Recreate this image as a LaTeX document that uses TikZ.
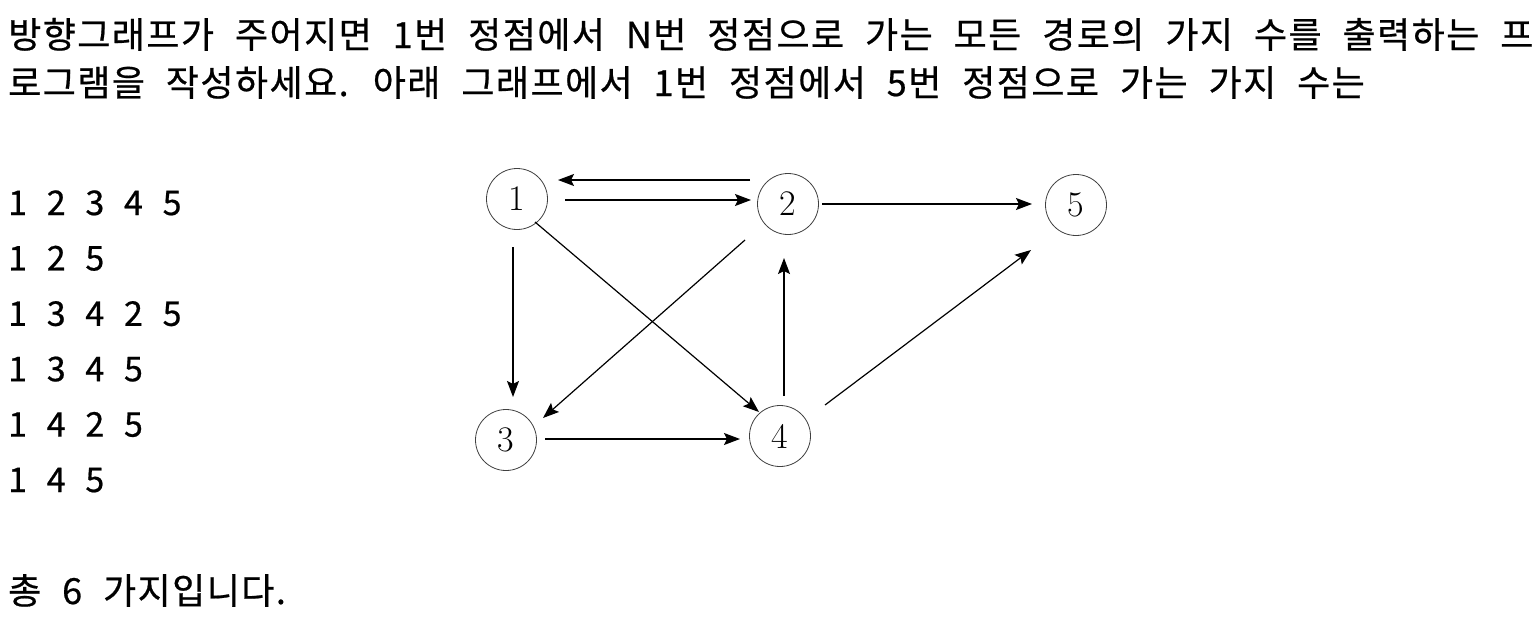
\documentclass[tikz,border=0pt]{standalone}
\usepackage{fontspec}
\newfontfamily\krfont[WordSpace=2.2,LetterSpace=4,FakeBold=0.6]{Noto Sans CJK KR}
\usetikzlibrary{arrows.meta}

\begin{document}
\begin{tikzpicture}[
  x=1pt, y=-1pt,
  >=Latex,
  vertex/.style={draw=black!75, line width=0.8pt, circle, minimum size=61pt, inner sep=0pt, font=\fontsize{36}{36}\selectfont},
  edge/.style={-{Stealth[length=16pt, width=12pt, inset=3pt]}, line width=1.2pt},
  txt/.style={anchor=base west, inner sep=0pt, font=\krfont\fontsize{36}{40}\selectfont},
  rowtxt/.style={txt, font=\krfont\fontsize{34}{40}\selectfont}
]
\useasboundingbox (0,0) rectangle (1540,632);

% --- Problem statement -------------------------------------------------------
\node[txt] (q1) at (8,48) {방향그래프가 주어지면 1번 정점에서 N번 정점으로 가는 모든 경로의 가지 수를 출력하는 프};
\node[txt] (q2) at (8,96) {로그램을 작성하세요. 아래 그래프에서 1번 정점에서 5번 정점으로 가는 가지 수는};

% --- Listed paths --------------------------------------------------------------
\foreach \p [count=\i] in {{1 2 3 4 5},{1 2 5},{1 3 4 2 5},{1 3 4 5},{1 4 2 5},{1 4 5}}
  \node[rowtxt] (path\i) at (8,159.6+55.4*\i) {\p};

\node[txt] (total) at (8,604) {총 6 가지입니다.};

% --- Vertices ------------------------------------------------------------------
\node[vertex] (n1) at (517,199) {1};
\node[vertex] (n2) at (788,204) {2};
\node[vertex] (n3) at (506,440) {3};
\node[vertex] (n4) at (780,436) {4};
\node[vertex] (n5) at (1076,205) {5};

% --- Directed edges --------------------------------------------------------------
\draw[edge] ([shift={(-38,-24)}]n2.center) -- ([shift={(41,-19)}]n1.center);
\draw[edge] ([shift={(48,1)}]n1.center) -- ([shift={(-37,-4)}]n2.center);
\draw[edge] ([shift={(34,0)}]n2.center) -- ([shift={(-44,-1)}]n5.center);
\draw[edge] ([shift={(-4,48)}]n1.center) -- ([shift={(7,-43)}]n3.center);
\draw[edge] ([shift={(18,23)}]n1.center) -- ([shift={(-21,-24)}]n4.center);
\draw[edge] ([shift={(-43,36)}]n2.center) -- ([shift={(37,-22)}]n3.center);
\draw[edge] ([shift={(4,-40)}]n4.center) -- ([shift={(-4,54)}]n2.center);
\draw[edge] ([shift={(39,-1)}]n3.center) -- ([shift={(-40,3)}]n4.center);
\draw[edge] ([shift={(45,-31)}]n4.center) -- ([shift={(-45,45)}]n5.center);

\end{tikzpicture}
\end{document}
